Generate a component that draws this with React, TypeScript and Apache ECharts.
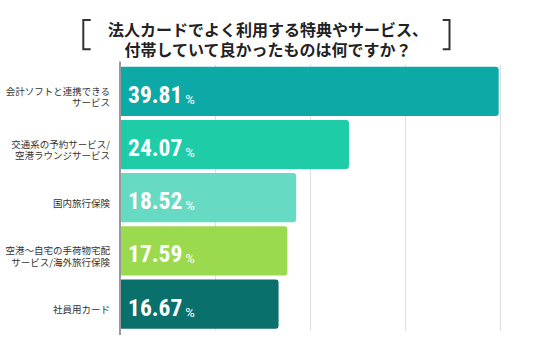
import React, { useEffect, useRef } from "react";
import * as echarts from "echarts";

const categories = [
  "会計ソフトと連携できる\nサービス",
  "交通系の予約サービス/\n空港ラウンジサービス",
  "国内旅行保険",
  "空港〜自宅の手荷物宅配\nサービス/海外旅行保険",
  "社員用カード",
];
const values = [39.81, 24.07, 18.52, 17.59, 16.67];
const barColors = ["#0DA9A6", "#1ECCA8", "#66DAC3", "#9BD94F", "#0A706C"];
const titleLines = ["法人カードでよく利用する特典やサービス、", "付帯していて良かったものは何ですか？"];
const xTicks = { min: 0, max: 40, interval: 10 };

export default function App() {
  const ref = useRef<HTMLDivElement>(null);
  useEffect(() => {
    const chart = echarts.init(ref.current!, null, { renderer: "svg" });
    chart.setOption({
      animation: false,
      backgroundColor: "#ffffff",
      title: {
        text: titleLines.join("\n"),
        left: "center",
        top: 14,
        textStyle: {
          fontFamily: "Noto Sans CJK JP",
          fontSize: 16,
          fontWeight: "bold",
          color: "#222222",
          lineHeight: 20,
        },
      },
      graphic: [
        {
          type: "polyline",
          shape: { points: [[90.7, 20], [83.3, 20], [83.3, 49.3], [90.7, 49.3]] },
          style: { stroke: "#333333", lineWidth: 2, fill: null },
        },
        {
          type: "polyline",
          shape: { points: [[442.7, 20], [449.5, 20], [449.5, 49.3], [442.7, 49.3]] },
          style: { stroke: "#333333", lineWidth: 2, fill: null },
        },
        {
          type: "line",
          z: 100,
          shape: { x1: 120, y1: 61.5, x2: 120, y2: 335 },
          style: { stroke: "#9a9a9a", lineWidth: 2 },
        },
      ],
      grid: { left: 120, right: 35.5, top: 64.7, bottom: 22.3 },
      xAxis: {
        type: "value",
        min: xTicks.min,
        max: xTicks.max,
        interval: xTicks.interval,
        axisLabel: { show: false },
        axisLine: { show: false },
        axisTick: { show: false },
        splitLine: { show: true, lineStyle: { color: "#dddddd", width: 1 } },
      },
      yAxis: {
        type: "category",
        data: categories,
        inverse: true,
        axisLine: { show: false },
        axisTick: { show: false },
        axisLabel: { show: false },
      },
      series: [
        {
          type: "bar",
          data: values.map((v, i) => ({ value: v, itemStyle: { color: barColors[i] } })),
          barCategoryGap: "7.5%",
          itemStyle: { borderRadius: [0, 3, 3, 0] },
        },
        {
          type: "custom",
          z: 5,
          clip: false,
          data: values.map((v, i) => [v, i]),
          renderItem: (params: any, api: any) => {
            const v = api.value(0);
            const i = api.value(1);
            const base = api.coord([0, i]);
            return {
              type: "group",
              children: [
                {
                  type: "text",
                  x: base[0] + 8,
                  y: base[1] + 3.5,
                  style: {
                    text: `{n|${v.toFixed(2)}}{p|%}`,
                    align: "left",
                    verticalAlign: "middle",
                    rich: {
                      n: {
                        fontFamily: "Roboto Condensed, Roboto",
                        fontWeight: "bold",
                        fontSize: 23.5,
                        fill: "#ffffff",
                        verticalAlign: "bottom",
                      },
                      p: {
                        fontFamily: "Roboto",
                        fontSize: 13,
                        fill: "#ffffff",
                        padding: [0, 0, 1, 3],
                        verticalAlign: "bottom",
                      },
                    },
                  },
                },
                {
                  type: "text",
                  x: base[0] - 10,
                  y: base[1] + 5,
                  style: {
                    text: categories[i],
                    align: "right",
                    verticalAlign: "middle",
                    fontFamily: "Noto Sans CJK JP",
                    fontSize: 9.5,
                    lineHeight: 11.5,
                    fill: "#333333",
                  },
                },
              ],
            };
          },
        },
      ],
    });
    return () => chart.dispose();
  }, []);
  return <div ref={ref} style={{ width: 536, height: 353, position: "absolute", left: 0, top: 0 }} />;
}
